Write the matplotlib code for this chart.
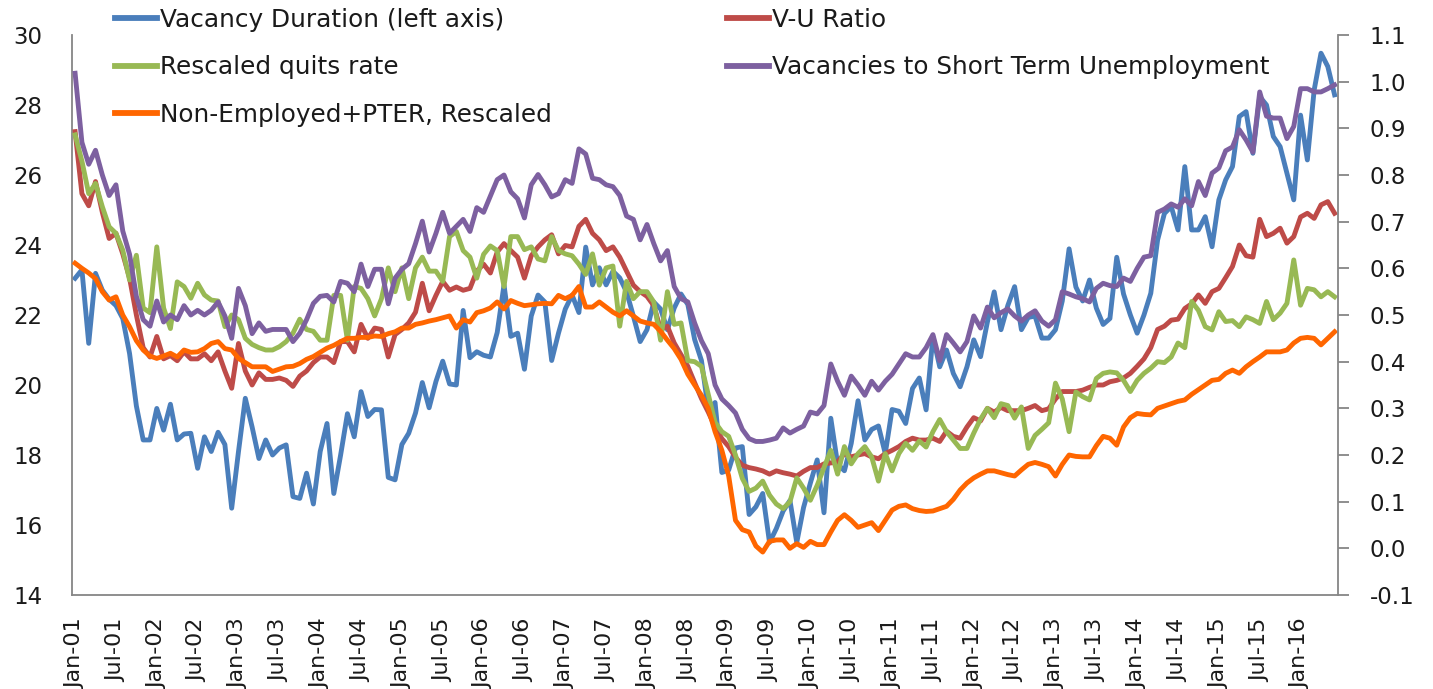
import matplotlib
matplotlib.use("Agg")
import matplotlib.pyplot as plt
import numpy as np

tick_labels = ["Jan-01", "Jul-01", "Jan-02", "Jul-02", "Jan-03", "Jul-03", "Jan-04", "Jul-04",
               "Jan-05", "Jul-05", "Jan-06", "Jul-06", "Jan-07", "Jul-07", "Jan-08", "Jul-08",
               "Jan-09", "Jul-09", "Jan-10", "Jul-10", "Jan-11", "Jul-11", "Jan-12", "Jul-12",
               "Jan-13", "Jul-13", "Jan-14", "Jul-14", "Jan-15", "Jul-15", "Jan-16"]

# Monthly values, Jan-2001 .. Jun-2016
vacancy_duration = [
    23.05, 23.29, 21.19, 23.19, 22.71, 22.45, 22.27, 21.9, 20.9, 19.4, 18.43, 18.43,
    19.33, 18.71, 19.45, 18.43, 18.6, 18.62, 17.62, 18.52, 18.1, 18.65, 18.3, 16.48,
    18.1, 19.62, 18.8, 17.9, 18.43, 18.0, 18.2, 18.29, 16.81, 16.76, 17.48, 16.6,
    18.1, 18.9, 16.9, 18.0, 19.18, 18.52, 19.81, 19.1, 19.3, 19.29, 17.36, 17.29,
    18.3, 18.62, 19.2, 20.07, 19.35, 20.1, 20.68, 20.03, 20.0, 22.13, 20.78, 20.95,
    20.85, 20.8, 21.5, 22.86, 21.39, 21.48, 20.45, 21.97, 22.57, 22.37, 20.7, 21.48,
    22.17, 22.57, 22.07, 23.94, 22.86, 23.35, 22.86, 23.25, 23.06, 22.66, 21.97, 21.24,
    21.58, 22.37, 22.17, 21.58, 22.2, 22.6, 22.3, 21.3, 20.7, 19.3, 19.5, 17.5,
    17.57, 18.2, 18.24, 16.3, 16.52, 16.9, 15.5, 15.9, 16.4, 16.7, 15.5, 16.5,
    17.2, 17.86, 16.35, 19.05, 17.74, 17.55, 18.33, 19.55, 18.43, 18.73, 18.83, 18.04,
    19.3, 19.25, 18.9, 19.9, 20.2, 19.29, 21.38, 20.52, 21.0, 20.33, 19.95, 20.52,
    21.29, 20.81, 21.8, 22.66, 21.58, 22.27, 22.81, 21.58, 21.93, 21.97, 21.34, 21.34,
    21.58, 22.4, 23.89, 22.8, 22.4, 23.0, 22.2, 21.73, 21.9, 23.65, 22.6, 22.0,
    21.48, 22.0, 22.62, 24.14, 24.9, 25.1, 24.43, 26.24, 24.43, 24.43, 24.81, 23.95,
    25.29, 25.86, 26.24, 27.67, 27.81, 26.62, 28.24, 28.0, 27.1, 26.81, 26.05, 25.29,
    27.71, 26.43, 28.43, 29.48, 29.1, 28.29]

vu_ratio = [
    0.893, 0.76, 0.734, 0.786, 0.72, 0.664, 0.675, 0.631, 0.579, 0.50, 0.43, 0.41,
    0.454, 0.406, 0.413, 0.402, 0.421, 0.406, 0.406, 0.417, 0.402, 0.421, 0.38, 0.343,
    0.439, 0.38, 0.35, 0.376, 0.362, 0.362, 0.365, 0.36, 0.347, 0.369, 0.38, 0.398,
    0.41, 0.41, 0.398, 0.443, 0.443, 0.421, 0.48, 0.45, 0.472, 0.469, 0.41, 0.458,
    0.469, 0.483, 0.506, 0.568, 0.509, 0.542, 0.572, 0.553, 0.56, 0.553, 0.557, 0.594,
    0.609, 0.59, 0.635, 0.653, 0.638, 0.624, 0.579, 0.627, 0.646, 0.661, 0.672, 0.631,
    0.649, 0.646, 0.69, 0.705, 0.675, 0.661, 0.638, 0.646, 0.624, 0.594, 0.564, 0.55,
    0.54, 0.52, 0.469, 0.476, 0.44, 0.415, 0.39, 0.355, 0.321, 0.292, 0.26, 0.235,
    0.218, 0.195, 0.178, 0.173, 0.17, 0.166, 0.159, 0.166, 0.162, 0.159, 0.155, 0.165,
    0.173, 0.173, 0.181, 0.183, 0.185, 0.203, 0.196, 0.20, 0.203, 0.196, 0.192, 0.203,
    0.21, 0.218, 0.229, 0.236, 0.232, 0.232, 0.236, 0.229, 0.251, 0.24, 0.236, 0.26,
    0.28, 0.273, 0.30, 0.292, 0.302, 0.295, 0.295, 0.295, 0.30, 0.306, 0.295, 0.299,
    0.32, 0.336, 0.336, 0.336, 0.339, 0.345, 0.35, 0.35, 0.357, 0.36, 0.365, 0.375,
    0.39, 0.406, 0.43, 0.469, 0.476, 0.489, 0.491, 0.514, 0.524, 0.543, 0.525, 0.55,
    0.557, 0.58, 0.604, 0.65, 0.627, 0.624, 0.705, 0.668, 0.675, 0.686, 0.654, 0.668,
    0.71, 0.718, 0.707, 0.736, 0.743, 0.718]

quits_rescaled = [
    0.886, 0.83, 0.76, 0.782, 0.732, 0.689, 0.675, 0.639, 0.575, 0.628, 0.515, 0.505,
    0.646, 0.515, 0.471, 0.571, 0.561, 0.536, 0.568, 0.543, 0.532, 0.53, 0.475, 0.50,
    0.49, 0.45, 0.437, 0.43, 0.425, 0.425, 0.432, 0.443, 0.461, 0.491, 0.469, 0.465,
    0.446, 0.446, 0.542, 0.542, 0.446, 0.561, 0.557, 0.535, 0.498, 0.535, 0.601, 0.55,
    0.601, 0.535, 0.601, 0.624, 0.594, 0.594, 0.572, 0.668, 0.679, 0.638, 0.624, 0.579,
    0.63, 0.648, 0.638, 0.561, 0.668, 0.668, 0.64, 0.646, 0.62, 0.616, 0.668, 0.638,
    0.631, 0.627, 0.609, 0.587, 0.631, 0.564, 0.601, 0.605, 0.476, 0.572, 0.535, 0.55,
    0.55, 0.528, 0.446, 0.55, 0.48, 0.483, 0.402, 0.40, 0.39, 0.33, 0.27, 0.25,
    0.24, 0.20, 0.15, 0.122, 0.129, 0.144, 0.114, 0.095, 0.085, 0.10, 0.151, 0.129,
    0.103, 0.135, 0.173, 0.21, 0.159, 0.218, 0.181, 0.203, 0.218, 0.196, 0.144, 0.203,
    0.166, 0.203, 0.225, 0.21, 0.23, 0.217, 0.25, 0.276, 0.25, 0.232, 0.214, 0.214,
    0.247, 0.277, 0.30, 0.28, 0.31, 0.306, 0.279, 0.303, 0.214, 0.242, 0.255, 0.269,
    0.354, 0.32, 0.25, 0.335, 0.325, 0.318, 0.364, 0.375, 0.378, 0.376, 0.36, 0.336,
    0.36, 0.375, 0.386, 0.40, 0.398, 0.41, 0.44, 0.43, 0.529, 0.51, 0.475, 0.468,
    0.507, 0.486, 0.488, 0.475, 0.496, 0.49, 0.482, 0.529, 0.49, 0.504, 0.525, 0.618,
    0.521, 0.557, 0.554, 0.539, 0.55, 0.539]

vac_short_term = [
    1.018, 0.87, 0.823, 0.853, 0.80, 0.756, 0.779, 0.68, 0.63, 0.54, 0.49, 0.476,
    0.53, 0.485, 0.50, 0.49, 0.52, 0.50, 0.51, 0.50, 0.51, 0.528, 0.498, 0.45,
    0.557, 0.52, 0.46, 0.483, 0.465, 0.469, 0.469, 0.469, 0.443, 0.461, 0.49, 0.525,
    0.54, 0.542, 0.528, 0.572, 0.568, 0.55, 0.609, 0.561, 0.598, 0.598, 0.524, 0.579,
    0.598, 0.61, 0.653, 0.701, 0.635, 0.675, 0.72, 0.675, 0.69, 0.705, 0.679, 0.73,
    0.72, 0.755, 0.79, 0.80, 0.764, 0.749, 0.708, 0.779, 0.801, 0.779, 0.753, 0.76,
    0.79, 0.782, 0.856, 0.845, 0.793, 0.79, 0.779, 0.775, 0.756, 0.712, 0.705, 0.661,
    0.694, 0.653, 0.616, 0.638, 0.561, 0.535, 0.528, 0.483, 0.445, 0.417, 0.35, 0.32,
    0.306, 0.29, 0.255, 0.235, 0.229, 0.229, 0.232, 0.236, 0.258, 0.247, 0.255, 0.262,
    0.292, 0.288, 0.306, 0.395, 0.358, 0.328, 0.369, 0.35, 0.328, 0.358, 0.339, 0.358,
    0.373, 0.395, 0.417, 0.41, 0.41, 0.43, 0.458, 0.402, 0.458, 0.44, 0.421, 0.443,
    0.498, 0.472, 0.517, 0.494, 0.505, 0.513, 0.498, 0.487, 0.50, 0.509, 0.487, 0.476,
    0.49, 0.55, 0.545, 0.539, 0.535, 0.528, 0.557, 0.568, 0.563, 0.561, 0.579, 0.572,
    0.60, 0.624, 0.627, 0.72, 0.727, 0.738, 0.731, 0.749, 0.734, 0.786, 0.756, 0.804,
    0.815, 0.852, 0.86, 0.897, 0.875, 0.849, 0.978, 0.926, 0.922, 0.922, 0.878, 0.904,
    0.985, 0.985, 0.978, 0.978, 0.985, 0.993]

nonemp_pter = [
    0.611, 0.60, 0.59, 0.578, 0.55, 0.532, 0.539, 0.50, 0.475, 0.445, 0.425, 0.412,
    0.407, 0.412, 0.418, 0.41, 0.425, 0.42, 0.421, 0.428, 0.439, 0.443, 0.428, 0.425,
    0.407, 0.398, 0.389, 0.389, 0.389, 0.379, 0.384, 0.389, 0.39, 0.396, 0.405, 0.411,
    0.42, 0.429, 0.435, 0.443, 0.45, 0.45, 0.452, 0.452, 0.455, 0.454, 0.46, 0.464,
    0.472, 0.472, 0.48, 0.483, 0.487, 0.49, 0.494, 0.498, 0.472, 0.49, 0.485, 0.505,
    0.509, 0.515, 0.528, 0.513, 0.531, 0.525, 0.52, 0.522, 0.524, 0.525, 0.524, 0.542,
    0.535, 0.542, 0.561, 0.517, 0.517, 0.528, 0.517, 0.506, 0.498, 0.509, 0.498, 0.487,
    0.483, 0.48, 0.465, 0.446, 0.428, 0.405, 0.373, 0.35, 0.328, 0.30, 0.25, 0.21,
    0.155, 0.06, 0.04, 0.035, 0.005, -0.008, 0.015, 0.018, 0.018, 0.0, 0.01, 0.002,
    0.015, 0.008, 0.008, 0.035, 0.06, 0.072, 0.06, 0.045, 0.05, 0.055, 0.038, 0.06,
    0.082, 0.09, 0.093, 0.085, 0.081, 0.079, 0.08, 0.085, 0.09, 0.105, 0.125, 0.14,
    0.151, 0.159, 0.166, 0.166, 0.162, 0.158, 0.155, 0.168, 0.18, 0.184, 0.18, 0.175,
    0.155, 0.18, 0.2, 0.197, 0.196, 0.196, 0.22, 0.24, 0.236, 0.221, 0.26, 0.28,
    0.289, 0.287, 0.286, 0.30, 0.305, 0.31, 0.315, 0.318, 0.33, 0.34, 0.35, 0.36,
    0.362, 0.375, 0.382, 0.375, 0.389, 0.40, 0.41, 0.421, 0.421, 0.421, 0.425, 0.44,
    0.45, 0.452, 0.45, 0.436, 0.45, 0.464]

left_ticks = [14, 16, 18, 20, 22, 24, 26, 28, 30]
right_ticks = [-0.1, 0.0, 0.1, 0.2, 0.3, 0.4, 0.5, 0.6, 0.7, 0.8, 0.9, 1.0, 1.1]

plt.rcParams['font.family'] = ['DejaVu Sans']
plt.rcParams['axes.unicode_minus'] = False

TXT = '#1a1a1a'
AX = '#868686'
LW = 3.5

fig = plt.figure(figsize=(14.33, 6.89), dpi=100)
ax = fig.add_axes([71.7 / 1433, 94 / 689, (1338 - 71.7) / 1433, 560 / 689])
ax2 = ax.twinx()

n = len(vacancy_duration)
x = np.arange(n)
l1, = ax.plot(x, vacancy_duration, color='#4A7EBB', lw=LW, solid_joinstyle='round',
              label='Vacancy Duration (left axis)')
l2, = ax2.plot(x, vu_ratio, color='#BE4B48', lw=LW, solid_joinstyle='round', label='V-U Ratio')
l3, = ax2.plot(x, quits_rescaled, color='#98B954', lw=LW, solid_joinstyle='round',
               label='Rescaled quits rate')
l4, = ax2.plot(x, vac_short_term, color='#7D60A0', lw=LW, solid_joinstyle='round',
               label='Vacancies to Short Term Unemployment')
l5, = ax2.plot(x, nonemp_pter, color='#FF6600', lw=LW, solid_joinstyle='round',
               label='Non-Employed+PTER, Rescaled')

ax.set_xlim(-0.5, n - 0.5)
ax.set_ylim(14, 30)
ax.set_yticks(left_ticks)
ax.set_yticklabels([str(v) for v in left_ticks])
ax2.set_ylim(-0.1, 1.1)
ax2.set_yticks(right_ticks)
ax2.set_yticklabels([f"{v:.1f}" for v in right_ticks])

ax.set_xticks(np.arange(0, 6 * len(tick_labels), 6))
ax.set_xticklabels(tick_labels, rotation=90)

for a in (ax, ax2):
    a.spines['top'].set_visible(False)
ax.spines['right'].set_visible(False)
ax2.spines['left'].set_visible(False)
ax2.spines['bottom'].set_visible(False)
for s in ('left', 'bottom'):
    ax.spines[s].set_color(AX)
    ax.spines[s].set_linewidth(1.3)
ax2.spines['right'].set_color(AX)
ax2.spines['right'].set_linewidth(1.3)

ax.tick_params(axis='y', length=0, pad=21, labelsize=16.5, labelcolor=TXT)
ax.tick_params(axis='x', length=0, pad=17, labelsize=16, labelcolor=TXT)
ax2.tick_params(axis='y', length=7.7, width=1.3, color=AX, direction='out', pad=15,
                labelsize=16.5, labelcolor=TXT)

leg_kw = dict(loc='upper left', frameon=False, fontsize=17.8, handlelength=1.7,
              handletextpad=0.12, labelspacing=0.95, borderpad=0, borderaxespad=0,
              labelcolor=TXT)
leg1 = fig.legend(handles=[l1, l3, l5], bbox_to_anchor=(115 / 1433, 1 - 8 / 689), **leg_kw)
leg2 = fig.legend(handles=[l2, l4], bbox_to_anchor=(727 / 1433, 1 - 8 / 689), **leg_kw)
for lg in (leg1, leg2):
    for h in lg.legend_handles:
        h.set_linewidth(4.2)

fig.savefig('out.png', dpi=100)
